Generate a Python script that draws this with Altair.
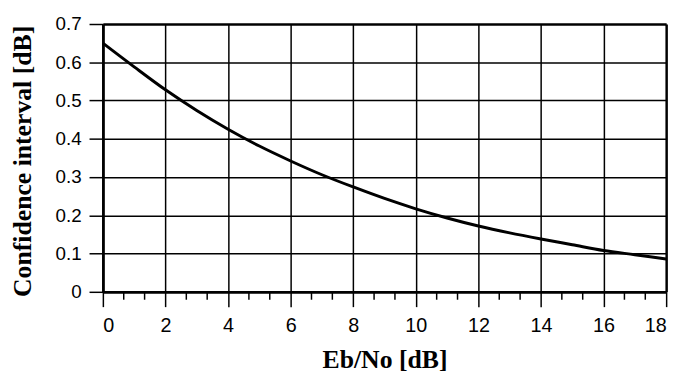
import altair as alt
import pandas as pd

# Curve
ebno = [0, 1, 2, 3, 4, 5, 6, 7, 8, 9, 10, 11, 12, 13, 14, 15, 16, 17, 18]
conf = [0.650, 0.588, 0.528, 0.474, 0.425, 0.381, 0.342, 0.306, 0.274, 0.244,
        0.217, 0.193, 0.172, 0.154, 0.138, 0.123, 0.108, 0.097, 0.086]

x_major = [0, 2, 4, 6, 8, 10, 12, 14, 16, 18]
x_minor = [i * 2 / 3 for i in range(28) if i % 3 != 0]
y_ticks = [0, 0.1, 0.2, 0.3, 0.4, 0.5, 0.6, 0.7]

df = pd.DataFrame({"x": ebno, "y": conf})
df_minor = pd.DataFrame({"x": x_minor})

W, H = 570, 271

x_scale = alt.Scale(domain=[0, 18], nice=False, zero=False)
y_scale = alt.Scale(domain=[0, 0.7], nice=False)

x_axis = alt.Axis(
    values=x_major,
    format="d",
    labelOverlap=False,
    tickSize=15,
    tickWidth=1.5,
    tickColor="black",
    gridWidth={"condition": {"test": "datum.value === 0 || datum.value === 18", "value": 2.5}, "value": 1.5},
    gridColor="black",
    domainColor="black",
    domainWidth=2.5,
    labelFont="Liberation Sans",
    labelFontSize=20,
    labelColor="black",
    labelPadding=9,
    title="Eb/No [dB]",
    titleFont="Liberation Serif",
    titleFontSize=26,
    titleFontWeight="bold",
    titleColor="black",
    titleBaseline="alphabetic",
    titleY=77,
)

y_axis = alt.Axis(
    values=y_ticks,
    format=".1~f",
    labelOverlap=False,
    tickSize=14,
    tickWidth=1.5,
    tickColor="black",
    gridColor="black",
    gridWidth={"condition": {"test": "datum.value === 0 || datum.value > 0.69", "value": 2.5}, "value": 1.5},
    domainColor="black",
    domainWidth=2.5,
    labelFont="Liberation Sans",
    labelFontSize=19,
    labelColor="black",
    labelPadding=8,
    title="Confidence interval [dB]",
    titleFont="Liberation Serif",
    titleFontSize=26,
    titleFontWeight="bold",
    titleColor="black",
    titleAngle=-90,
    titleBaseline="bottom",
    titleX=-68,
    titleY=H / 2 + 3,
)

line = (
    alt.Chart(df)
    .mark_line(color="black", strokeWidth=3, interpolate="monotone")
    .encode(
        x=alt.X("x:Q", scale=x_scale, axis=x_axis),
        y=alt.Y("y:Q", scale=y_scale, axis=y_axis),
    )
)

minor = (
    alt.Chart(df_minor)
    .mark_rule(color="black", strokeWidth=1.5)
    .encode(
        x=alt.X("x:Q", scale=x_scale),
        y=alt.value(H),
        y2=alt.value(H + 8),
    )
)

chart = (
    alt.layer(line, minor)
    .properties(
        width=W,
        height=H,
        autosize=alt.AutoSizeParams(type="none"),
        padding={"left": 96, "top": 14, "right": 13, "bottom": 84},
    )
    .configure_view(stroke="black", strokeWidth=2.5)
    .configure(background="white")
)

chart.save("out.html", embed_options={"renderer": "svg", "actions": False})
